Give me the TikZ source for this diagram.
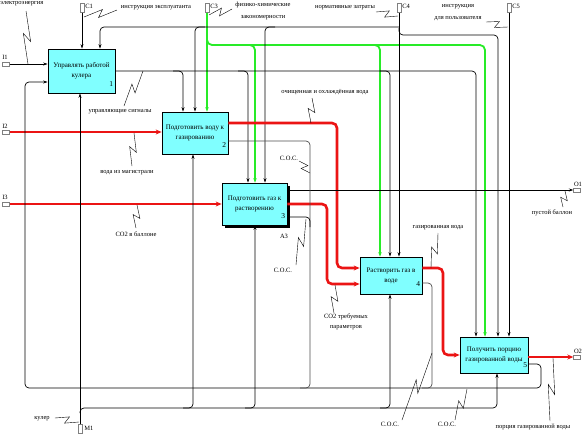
\documentclass[tikz,border=0pt]{standalone}
\usepackage{fontspec}
\setmainfont{Liberation Serif}
\usetikzlibrary{arrows.meta,calc,shadows}
\definecolor{boxcyan}{RGB}{128,255,255}
\definecolor{idefred}{RGB}{235,20,20}
\definecolor{idefgreen}{RGB}{40,235,40}
% zigzag leader from a label to its arrow
\newcommand{\squig}[2]{\draw[lead] (#1) -- ($(#1)!0.58!(#2)!3.5pt!90:(#2)$) -- ($(#1)!0.42!(#2)!3.5pt!-90:(#2)$) -- (#2);}
\begin{document}
\begin{tikzpicture}[
        x=1pt, y=-1pt,
        line width=0.7pt,
        font=\fontsize{6.5}{7.5}\selectfont
    ]
    \tikzset{
        func/.style = {rectangle, draw=black, fill=boxcyan, align=center, inner sep=1pt,
                       font=\fontsize{7}{10}\selectfont},
        num/.style = {font=\fontsize{7.5}{8}\selectfont, inner sep=0pt},
        arr/.style = {-{Stealth[length=4.5pt,width=3pt]}, rounded corners=4pt},
        pln/.style = {rounded corners=4pt},
        redarr/.style = {-{Stealth[length=6pt,width=5pt]}, rounded corners=5pt, idefred, line width=2.6pt},
        grnarr/.style = {-{Stealth[length=4.5pt,width=3.5pt]}, rounded corners=5pt, idefgreen, line width=1.8pt},
        tunv/.style = {rectangle, draw=gray, fill=white, line width=0.4pt, minimum width=4pt, minimum height=9pt, inner sep=0pt},
        tunh/.style = {rectangle, draw=gray, fill=white, line width=0.4pt, minimum width=7pt, minimum height=4pt, inner sep=0pt},
        lead/.style = {line width=0.4pt},
        txt/.style = {align=center, inner sep=0pt},
    }
    \useasboundingbox (0,0) rectangle (584,437);
    % functions
    \node[func, minimum width=67pt, minimum height=44pt] (b1) at (81.5,71) {Управлять работой\\кулера};
    \node[func, minimum width=66pt, minimum height=42pt] (b2) at (195,133) {Подготовить воду к\\газированию};
    \node[func, minimum width=65pt, minimum height=42pt, drop shadow={shadow xshift=3pt, shadow yshift=-3pt, fill=black, opacity=1}] (b3) at (254.5,204) {Подготовить газ к\\растворению};
    \node[func, minimum width=62pt, minimum height=37pt] (b4) at (391,275.5) {Растворить газ в\\воде};
    \node[func, minimum width=68pt, minimum height=36pt] (b5) at (494,355) {Получить порцию\\газированной воды};
    \node[num] (n1) at ($(b1.south east)+(-4,-9)$) {1};
    \node[num] (n2) at ($(b2.south east)+(-4,-9)$) {2};
    \node[num] (n3) at ($(b3.south east)+(-4,-9)$) {3};
    \node[num] (n4) at ($(b4.south east)+(-4,-10)$) {4};
    \node[num] (n5) at ($(b5.south east)+(-3,-8)$) {5};
    % tunnels
    \node[tunv] (c1) at (82,8) {};
    \node[tunv] (c3) at (207,8) {};
    \node[tunv] (c4) at (399,8) {};
    \node[tunv] (c5) at (509,8) {};
    \node[tunh] (i1) at (6,64) {};
    \node[tunh] (i2) at (6,132) {};
    \node[tunh] (i3) at (6,204) {};
    \node[tunh] (o1) at (577,190) {};
    \node[tunh] (o2) at (577,357) {};
    \node[tunv] (m1) at (80,429) {};
    \node[txt, anchor=west] (lc1) at (85,6) {C1};
    \node[txt, anchor=west] (lc3) at (210,6) {C3};
    \node[txt, anchor=west] (lc4) at (402,6) {C4};
    \node[txt, anchor=west] (lc5) at (512,6) {C5};
    \node[txt] (li1) at (5,57) {I1};
    \node[txt] (li2) at (5,126) {I2};
    \node[txt] (li3) at (5,197) {I3};
    \node[txt] (lo1) at (578,184) {O1};
    \node[txt] (lo2) at (578,351) {O2};
    \node[txt, anchor=west] (lm1) at (84,428) {M1};
    %
    % inputs
    \draw[arr] (i1.east) -- (b1.west |- i1.east);
    \draw[redarr] (i2.east) -- (b2.west |- i2.east);
    \draw[redarr] (i3.east) -- (b3.west |- i3.east);
    \draw[arr] (b5.east |- 0,364) -- (541,364) -- (541,388) -- (25,388) -- (25,82) -- (b1.west |- 0,82);
    %
    % controls
    \draw[arr] (c1.south) -- (c1.south |- b1.north);
    \draw[grnarr] (c3.south) -- (c3.south |- b2.north);
    \draw[grnarr] (207,38) -- (207,45) -- (485,45) -- (485,0 |- b5.north);
    \draw[grnarr] (245,45) -- (255,45) -- (255,0 |- b3.north);
    \draw[grnarr] (370,45) -- (380,45) -- (380,0 |- b4.north);
    \draw[arr] (c4.south) -- (c4.south |- b4.north);
    \draw[arr] (399,27) -- (100,27) -- (100,0 |- b1.north);
    \draw[arr] (205,27) -- (195,27) -- (195,0 |- b2.north);
    \draw[arr] (275,27) -- (265,27) -- (265,0 |- b3.north);
    \draw[arr] (399,28) -- (399,35) -- (498,35) -- (498,0 |- b5.north);
    \draw[arr] (c5.south) -- (c5.south |- b5.north);
    \draw[arr] (b1.east) -- (476,71) -- (476,0 |- b5.north);
    \draw[arr] (173,71) -- (183,71) -- (183,0 |- b2.north);
    \draw[arr] (238,71) -- (248,71) -- (248,0 |- b3.north);
    \draw[arr] (380,71) -- (390,71) -- (390,0 |- b4.north);
    %
    % outputs
    \draw[redarr] (b2.east |- 0,123) -- (337,123) -- (337,268) -- (b4.west |- 0,268);
    \draw[redarr] (b3.east |- 0,204) -- (327,204) -- (327,284) -- (b4.west |- 0,284);
    \draw[redarr] (b4.east |- 0,268) -- (443,268) -- (443,355) -- (b5.west |- 0,355);
    \draw[redarr] (b5.east |- 0,357) -- (o2.west);
    \draw[arr] (b3.east |- 0,190) -- (o1.west);
    \draw[pln, black!70] (b2.east |- 0,141) -- (310,141) -- (310,388) -- (300,388);
    \draw[pln] (b3.east |- 0,217) -- (310,217) -- (310,227);
    \draw[pln, black!70] (b4.east |- 0,283) -- (432,283) -- (432,388) -- (422,388);
    %
    % mechanisms
    \draw[arr] (m1.north) -- (m1.north |- b1.south);
    \draw[arr] (80,413) -- (80,408) -- (497,408) -- (497,0 |- b5.south);
    \draw[arr] (183,408) -- (193,408) -- (193,0 |- b2.south);
    \draw[arr] (245,408) -- (255,408) -- (255,0 |- b3.south);
    \draw[arr] (380,408) -- (390,408) -- (390,0 |- b4.south);
    %
    % arrow labels
    \node[txt, anchor=west] (tel) at (0,4) {электроэнергия};
    \node[txt] (tie) at (156,8) {инструкция эксплуатанта};
    \node[txt, font=\fontsize{6.5}{12}\selectfont] (tfx) at (263,11) {физико-химические\\закономерности};
    \node[txt] (tnz) at (345,8) {нормативные затраты};
    \node[txt, font=\fontsize{6.5}{12}\selectfont] (tip) at (458,13) {инструкция\\для пользователя};
    \node[txt] (tus) at (120,112) {управляющие сигналы};
    \node[txt] (tvm) at (127,173) {вода из магистрали};
    \node[txt] (tco) at (136,234) {CO2 в баллоне};
    \node[txt] (tov) at (325,92) {очищенная и охлаждённая вода};
    \node[txt] (tsa) at (289,158) {С.О.С.};
    \node[txt] (ta3) at (284,236) {A3};
    \node[txt] (tsb) at (283,270) {С.О.С.};
    \node[txt] (tpb) at (552,213) {пустой баллон};
    \node[txt] (tgv) at (438,228) {газированная вода};
    \node[txt, font=\fontsize{6.5}{10}\selectfont] (tct) at (346,322) {CO2 требуемых\\параметров};
    \node[txt] (tsc) at (390,424) {С.О.С.};
    \node[txt] (tsd) at (447,424) {С.О.С.};
    \node[txt] (tpg) at (533,427) {порция газированной воды};
    \node[txt] (tku) at (42,419) {кулер};
    %
    \squig{26,11}{28,64}
    \squig{117,10}{84,17}
    \squig{232,9}{209,15}
    \squig{376,12}{398,16}
    \squig{486,22}{508,27}
    \squig{124,106}{143,71}
    \squig{132,166}{134,133}
    \squig{136,228}{137,205}
    \squig{312,98}{311,123}
    \squig{299,161}{310,173}
    \squig{296,265}{306,219}
    \squig{563,207}{565,191}
    \squig{438,233}{431,268}
    \squig{334,313}{335,285}
    \squig{402,420}{432,353}
    \squig{455,420}{467,389}
    \squig{550,421}{553,358}
    \squig{55,418}{79,422}
\end{tikzpicture}
\end{document}
